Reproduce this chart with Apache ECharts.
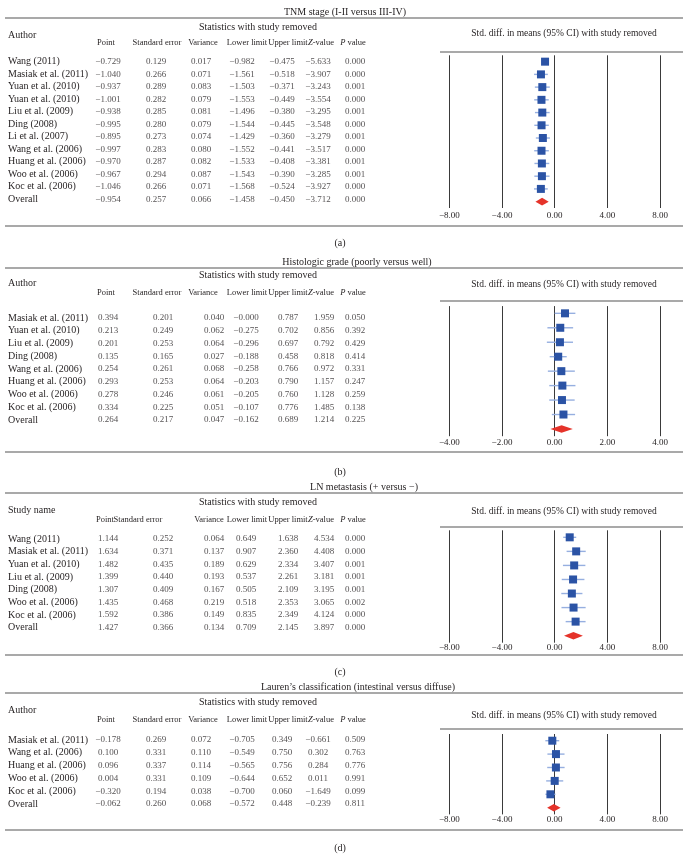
<!DOCTYPE html>
<html><head><meta charset="utf-8">
<script src="https://cdn.jsdelivr.net/npm/echarts/dist/echarts.min.js"></script>
<style>html,body{margin:0;padding:0;background:#fff}#c{width:690px;height:855px}</style>
</head><body><div id="c"></div>
<script>
// ---------------- DATA ----------------
const titleA = 'TNM stage (I-II versus III-IV)';
const namesA = ['Wang (2011)','Masiak et al. (2011)','Yuan et al. (2010)','Yuan et al. (2010)','Liu et al. (2009)','Ding (2008)','Li et al. (2007)','Wang et al. (2006)','Huang et al. (2006)','Woo et al. (2006)','Koc et al. (2006)','Overall'];
const pointA = [-0.729,-1.040,-0.937,-1.001,-0.938,-0.995,-0.895,-0.997,-0.970,-0.967,-1.046,-0.954];
const seA    = [0.129,0.266,0.289,0.282,0.285,0.280,0.273,0.283,0.287,0.294,0.266,0.257];
const varA   = [0.017,0.071,0.083,0.079,0.081,0.079,0.074,0.080,0.082,0.087,0.071,0.066];
const lowA   = [-0.982,-1.561,-1.503,-1.553,-1.496,-1.544,-1.429,-1.552,-1.533,-1.543,-1.568,-1.458];
const upA    = [-0.475,-0.518,-0.371,-0.449,-0.380,-0.445,-0.360,-0.441,-0.408,-0.390,-0.524,-0.450];
const zA     = [-5.633,-3.907,-3.243,-3.554,-3.295,-3.548,-3.279,-3.517,-3.381,-3.285,-3.927,-3.712];
const pA     = [0.000,0.000,0.001,0.000,0.001,0.000,0.001,0.000,0.001,0.001,0.000,0.000];

const titleB = 'Histologic grade (poorly versus well)';
const namesB = ['Masiak et al. (2011)','Yuan et al. (2010)','Liu et al. (2009)','Ding (2008)','Wang et al. (2006)','Huang et al. (2006)','Woo et al. (2006)','Koc et al. (2006)','Overall'];
const pointB = [0.394,0.213,0.201,0.135,0.254,0.293,0.278,0.334,0.264];
const seB    = [0.201,0.249,0.253,0.165,0.261,0.253,0.246,0.225,0.217];
const varB   = [0.040,0.062,0.064,0.027,0.068,0.064,0.061,0.051,0.047];
const lowB   = [-0.000,-0.275,-0.296,-0.188,-0.258,-0.203,-0.205,-0.107,-0.162];
const upB    = [0.787,0.702,0.697,0.458,0.766,0.790,0.760,0.776,0.689];
const zB     = [1.959,0.856,0.792,0.818,0.972,1.157,1.128,1.485,1.214];
const pB     = [0.050,0.392,0.429,0.414,0.331,0.247,0.259,0.138,0.225];

const titleC = 'LN metastasis (+ versus \u2212)';
const namesC = ['Wang (2011)','Masiak et al. (2011)','Yuan et al. (2010)','Liu et al. (2009)','Ding (2008)','Woo et al. (2006)','Koc et al. (2006)','Overall'];
const pointC = [1.144,1.634,1.482,1.399,1.307,1.435,1.592,1.427];
const seC    = [0.252,0.371,0.435,0.440,0.409,0.468,0.386,0.366];
const varC   = [0.064,0.137,0.189,0.193,0.167,0.219,0.149,0.134];
const lowC   = [0.649,0.907,0.629,0.537,0.505,0.518,0.835,0.709];
const upC    = [1.638,2.360,2.334,2.261,2.109,2.353,2.349,2.145];
const zC     = [4.534,4.408,3.407,3.181,3.195,3.065,4.124,3.897];
const pC     = [0.000,0.000,0.001,0.001,0.001,0.002,0.000,0.000];

const titleD = 'Lauren\u2019s classification (intestinal versus diffuse)';
const namesD = ['Masiak et al. (2011)','Wang et al. (2006)','Huang et al. (2006)','Woo et al. (2006)','Koc et al. (2006)','Overall'];
const pointD = [-0.178,0.100,0.096,0.004,-0.320,-0.062];
const seD    = [0.269,0.331,0.337,0.331,0.194,0.260];
const varD   = [0.072,0.110,0.114,0.109,0.038,0.068];
const lowD   = [-0.705,-0.549,-0.565,-0.644,-0.700,-0.572];
const upD    = [0.349,0.750,0.756,0.652,0.060,0.448];
const zD     = [-0.661,0.302,0.284,0.011,-1.649,-0.239];
const pD     = [0.509,0.763,0.776,0.991,0.099,0.811];

const headers = ['Point','Standard error','Variance','Lower limit','Upper limit','{i|Z}-value','{i|P} value'];
const firstColA = 'Author', firstColC = 'Study name';
const groupHeader = 'Statistics with study removed';
const forestHeader = 'Std. diff. in means (95% CI) with study removed';
const captions = ['(a)','(b)','(c)','(d)'];
const axisRangeA = [-8, 8, 4], axisRangeB = [-4, 4, 2];

// ---------------- LAYOUT ----------------
const FONT = 'Liberation Serif';
const TXT = '#231f20';
const RULE = '#555';
const colX1 = [108,156,201,242,282,318,355];
const colX2 = [108,163,214,246,288,324,355];
const headX1 = [106,157,203,247,288,321,353];
const headX2 = [105,138,209,247,288,321,353];
const L = [
  {titleX:345,titleY:12,rule:18,stats:27,author:35,head:43,ruleR:52,std:33,bottom:226,cap:243,row0:61.7,step:12.5,fTop:55.3,fH:152.7,tick:216,colX:colX1,headX:headX1},
  {titleX:357,titleY:262,rule:268,stats:275,author:283,head:293,ruleR:301,std:284,bottom:452,cap:472,row0:318,step:12.75,fTop:306.1,fH:130.1,tick:443,colX:colX2,headX:headX1},
  {titleX:364,titleY:487,rule:493,stats:502,author:510,head:520,ruleR:527,std:511,bottom:655,cap:672,row0:539,step:12.65,fTop:530.3,fH:112.4,tick:648,colX:colX2,headX:headX2},
  {titleX:358,titleY:687,rule:693,stats:702,author:710,head:720,ruleR:729,std:715,bottom:830,cap:848,row0:740,step:12.8,fTop:734,fH:80.4,tick:820,colX:colX1,headX:headX1}
];
const FX0 = 449.3, FX1 = 660;
const FS_NAME = 10, FS_NUM = 9, FS_HEAD = 8.5, FS_TITLE = 10, FS_STD = 9.5, FS_TICK = 9;

// ---------------- BUILD ----------------
const panels = [
  {title:titleA,first:firstColA,names:namesA,cols:[pointA,seA,varA,lowA,upA,zA,pA],range:axisRangeA},
  {title:titleB,first:firstColA,names:namesB,cols:[pointB,seB,varB,lowB,upB,zB,pB],range:axisRangeB},
  {title:titleC,first:firstColC,names:namesC,cols:[pointC,seC,varC,lowC,upC,zC,pC],range:axisRangeA},
  {title:titleD,first:firstColA,names:namesD,cols:[pointD,seD,varD,lowD,upD,zD,pD],range:axisRangeA}
];
function fmt(v){ const neg = v < 0 || Object.is(v,-0); return (neg ? '\u2212' : '') + Math.abs(v).toFixed(3); }
function fmtTick(v){ return (v < 0 ? '\u2212' : '') + Math.abs(v).toFixed(2); }

const grid = [], xAxis = [], yAxis = [], series = [], graphic = [];
const txt = (x,y,text,align,fs) => { fs = fs || FS_TITLE; return {type:'text', x, y, silent:true, style:{text, fill:TXT, font:fs+'px "'+FONT+'"', align:align||'center', verticalAlign:'middle', rich:{i:{fontStyle:'italic', fontSize:fs, fontFamily:FONT, fill:TXT}}}}; };
const hline = (x1,x2,y) => ({type:'line', silent:true, shape:{x1,y1:y,x2,y2:y}, style:{stroke:RULE, lineWidth:1.2}});

panels.forEach((p, k) => {
  const l = L[k];
  const n = p.names.length;
  // table grid
  const gT = grid.length;
  grid.push({left:0, right:0, top:l.row0 - l.step/2, height:n*l.step});
  xAxis.push({gridIndex:gT, type:'value', min:0, max:690, show:false});
  yAxis.push({gridIndex:gT, type:'category', inverse:true, data:p.names,
    axisLine:{show:false}, axisTick:{show:false}, splitLine:{show:false},
    axisLabel:{interval:0, inside:true, margin:8, align:'left', color:TXT, fontFamily:FONT, fontSize:FS_NAME}});
  p.cols.forEach((col, c) => {
    series.push({type:'scatter', xAxisIndex:gT, yAxisIndex:gT, symbolSize:1, silent:true,
      itemStyle:{color:'rgba(0,0,0,0)'},
      label:{show:true, position:'inside', color:TXT, fontFamily:FONT, fontSize:FS_NUM, formatter:(d)=>fmt(d.value[2])},
      data: col.map((v,i)=>[l.colX[c], i, v])});
  });
  // forest grid
  const gF = grid.length;
  grid.push({left:FX0, width:FX1-FX0, top:l.fTop, height:l.fH});
  xAxis.push({gridIndex:gF, type:'value', min:p.range[0], max:p.range[1], interval:p.range[2],
    axisLine:{show:false}, axisTick:{show:false},
    splitLine:{show:true, lineStyle:{color:'#3a3a3a', width:1}},
    axisLabel:{margin:l.tick - (l.fTop + l.fH) - 5, color:TXT, fontFamily:FONT, fontSize:FS_TICK, formatter:fmtTick}});
  yAxis.push({gridIndex:gF, type:'category', inverse:true, data:p.names, show:false});
  series.push({type:'custom', xAxisIndex:gF, yAxisIndex:gF, silent:true,
    encode:{x:[0,1,2], y:3},
    data: p.cols[0].map((v,i)=>[v, p.cols[3][i], p.cols[4][i], i, p.names[i]==='Overall'?1:0]),
    renderItem:(params, api) => {
      const i = api.value(3);
      const pt = api.coord([api.value(0), i]);
      const lo = api.coord([api.value(1), i]);
      const hi = api.coord([api.value(2), i]);
      if (api.value(4) === 1) {
        return {type:'polygon', shape:{points:[[lo[0],pt[1]],[pt[0],pt[1]-3.8],[hi[0],pt[1]],[pt[0],pt[1]+3.8]]}, style:{fill:'#e5332a'}};
      }
      return {type:'group', children:[
        {type:'line', shape:{x1:lo[0],y1:pt[1],x2:hi[0],y2:pt[1]}, style:{stroke:'#96afe0', lineWidth:1.4}},
        {type:'rect', shape:{x:pt[0]-4,y:pt[1]-4,width:8,height:8}, style:{fill:'#2b53a5'}}
      ]};
    }});
  // decorations and header text
  graphic.push(txt(l.titleX, l.titleY, p.title, 'center', FS_TITLE));
  graphic.push(hline(5, 683, l.rule));
  graphic.push(txt(258, l.stats, groupHeader, 'center', FS_TITLE));
  graphic.push(txt(8, l.author, p.first, 'left', FS_NAME));
  headers.forEach((h, c) => graphic.push(txt(l.headX[c], l.head, h, 'center', FS_HEAD)));
  graphic.push(txt(564, l.std, forestHeader, 'center', FS_STD));
  graphic.push(hline(440, 683, l.ruleR));
  graphic.push(hline(5, 683, l.bottom));
  graphic.push(txt(340, l.cap, captions[k], 'center', FS_TITLE));
});

const chart = echarts.init(document.getElementById('c'), null, {renderer:'canvas'});
chart.setOption({animation:false, backgroundColor:'#fff', grid, xAxis, yAxis, series, graphic});
</script></body></html>
